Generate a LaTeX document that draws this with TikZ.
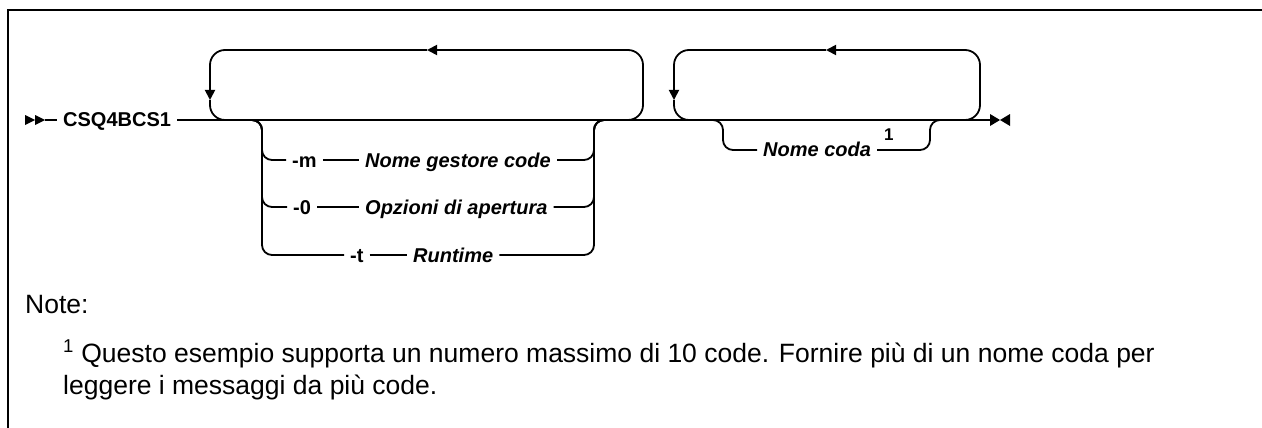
\documentclass[tikz,border=0pt]{standalone}
\usepackage{fontspec}
\setmainfont{Liberation Sans}
\usepackage{tikz}
\usetikzlibrary{arrows.meta}

\newcommand{\railsize}{\fontsize{20}{24}\selectfont}
\newcommand{\notesize}{\fontsize{26.5}{32}\selectfont}

\begin{document}
\begin{tikzpicture}[
        x=1pt, y=-1pt,
        rail/.style={line width=1.8pt, rounded corners=10pt},
        loop/.style={line width=1.8pt, rounded corners=15pt},
        tip/.style={-{Triangle[length=10pt, width=10pt]}},
        kw/.style={anchor=west, font=\railsize\bfseries, inner xsep=6pt, inner ysep=0pt, text height=14pt, text depth=0pt},
        var/.style={kw, font=\railsize\bfseries\itshape},
        note/.style={anchor=base west, font=\notesize, inner sep=0pt}
    ]

    \useasboundingbox (0,0) rectangle (1262,428);
    \draw[line width=2.2pt] (1262,10) -- (8,10) -- (8,428);

    % start and end of the rail
    \coordinate (start) at (45,120);
    \coordinate (stop) at (990,120);
    \fill (25,115) -- (35,120) -- (25,125) -- cycle;
    \fill (35,115) -- (start) -- (35,125) -- cycle;
    \fill (990,114) -- (1000,120) -- (990,126) -- cycle;
    \fill (1010,114) -- (1000,120) -- (1010,126) -- cycle;

    \node[kw] (prog) at (57,120) {CSQ4BCS1};
    \draw[rail] (start) -- (prog.west);
    \draw[rail] (prog.east) -- (stop);

    % options
    \coordinate (optin) at (240,120);
    \coordinate (opt1) at (262,120);
    \coordinate (opt2) at (594,120);
    \coordinate (optout) at (616,120);
    \node[kw] (m) at (286,160) {-m};
    \node[var] (qmgr) at (359,160) {Nome gestore code};
    \node[kw] (o) at (287,207) {-0};
    \node[var] (oopt) at (359,207) {Opzioni di apertura};
    \node[kw] (t) at (344,255) {-t};
    \node[var] (rt) at (407,255) {Runtime};

    \foreach \a/\b in {m/qmgr, o/oopt, t/rt} {
        \draw[rail] (optin) -- (opt1) |- (\a.west);
        \draw[rail] (\a.east) -- (\b.west);
        \draw[rail] (\b.east) -| (opt2) -- (optout);
    }

    % repeat loops
    \coordinate (r1a) at (620,120);
    \coordinate (r1b) at (643,50);
    \coordinate (r1c) at (427,50);
    \coordinate (r1d) at (210,100);
    \coordinate (r1e) at (236,120);
    \draw[loop, tip] (r1a) -| (r1b) -- (r1c);
    \draw[loop, tip] (r1c) -| (r1d);
    \draw[loop] (r1d) |- (r1e);

    \coordinate (r2a) at (955,120);
    \coordinate (r2b) at (980,50);
    \coordinate (r2c) at (826,50);
    \coordinate (r2d) at (674,100);
    \coordinate (r2e) at (700,120);
    \draw[loop, tip] (r2a) -| (r2b) -- (r2c);
    \draw[loop, tip] (r2c) -| (r2d);
    \draw[loop] (r2d) |- (r2e);

    % queue name
    \coordinate (qin) at (706,120);
    \coordinate (q1) at (723,120);
    \coordinate (q2) at (930,120);
    \coordinate (qout) at (948,120);
    \node[var] (qname) at (757,150) {Nome coda};
    \node[anchor=base west, font=\fontsize{17}{20}\selectfont\bfseries, inner sep=0pt] (ref) at (884,140) {1};
    \draw[rail] (qin) -- (q1) |- (qname.west);
    \draw[rail] (qname.east) -| (q2) -- (qout);

    % notes
    \node[note] (notes) at (25,313) {Note:};
    \node[note] (fn1) at (63,362) {\textsuperscript{1} Questo esempio supporta un numero massimo di 10 code. Fornire più di un nome coda per};
    \node[note] (fn2) at (63,394) {leggere i messaggi da più code.};

\end{tikzpicture}
\end{document}
